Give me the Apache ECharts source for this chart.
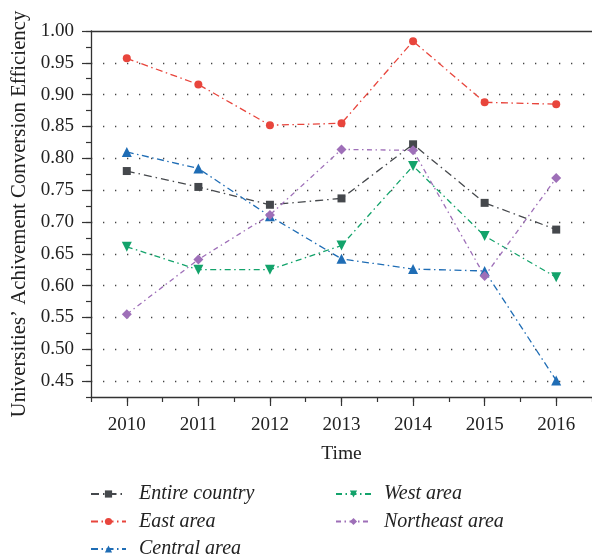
<!DOCTYPE html>
<html>
<head>
<meta charset="utf-8">
<script src="https://cdn.jsdelivr.net/npm/echarts@6/dist/echarts.min.js"></script>
<style>html,body{margin:0;padding:0;background:#fff}#c{width:592px;height:558px}</style>
</head>
<body>
<div id="c"></div>
<script>
// ---- data ----
const years = [2010, 2011, 2012, 2013, 2014, 2015, 2016];
const yearLabels = ['2010', '2011', '2012', '2013', '2014', '2015', '2016'];
const entireCountry = [0.780, 0.755, 0.727, 0.737, 0.822, 0.730, 0.688];
const eastArea      = [0.957, 0.916, 0.852, 0.855, 0.984, 0.888, 0.885];
const centralArea   = [0.810, 0.784, 0.709, 0.642, 0.626, 0.623, 0.451];
const westArea      = [0.661, 0.625, 0.625, 0.663, 0.788, 0.678, 0.613];
const northeastArea = [0.555, 0.641, 0.711, 0.814, 0.8125, 0.615, 0.769];
const yTickLabels = ['0.425','0.45','0.475','0.50','0.525','0.55','0.575','0.60','0.625','0.65','0.675','0.70',
                     '0.725','0.75','0.775','0.80','0.825','0.85','0.875','0.90','0.925','0.95','0.975','1.00'];
const seriesNames = ['Entire country', 'East area', 'Central area', 'West area', 'Northeast area'];

const FONT = '"Liberation Serif", "Times New Roman", serif';
const AX = '#333';
const rect = { left: 91, top: 31, right: 0, bottom: 161 };

function pairs(vals) { return years.map((y, i) => [y, vals[i]]); }

const styles = [
  { color: '#45484c', symbol: 'rect', size: 8, rot: 0, dash: [8, 4, 1.5, 4] },
  { color: '#e8453c', symbol: 'circle', size: 8, rot: 0, dash: [7, 3.5, 1.5, 3.5] },
  { color: '#1f6db5', symbol: 'triangle', size: 10, rot: 0, dash: [7, 3.5, 1.5, 3.5] },
  { color: '#13a36b', symbol: 'triangle', size: 10, rot: 180, dash: [6, 3.5, 1.5, 3.5] },
  { color: '#9e6fb8', symbol: 'diamond', size: 10, rot: 0, dash: [5, 3.5, 1.5, 3.5] }
];
const allVals = [entireCountry, eastArea, centralArea, westArea, northeastArea];

const series = seriesNames.map((n, i) => ({
  name: n, type: 'line', xAxisIndex: 0, yAxisIndex: 0,
  data: pairs(allVals[i]),
  symbol: styles[i].symbol, symbolSize: styles[i].size, symbolRotate: styles[i].rot,
  itemStyle: { color: styles[i].color },
  lineStyle: { color: styles[i].color, width: 1.3, type: styles[i].dash },
  z: 3
}));

const legendText = { fontSize: 20, fontStyle: 'italic', color: '#222', fontFamily: FONT, padding: [0, 0, 0, 8], lineHeight: 20 };

const chart = echarts.init(document.getElementById('c'), null, { renderer: 'canvas' });
chart.setOption({
  animation: false,
  backgroundColor: '#fff',
  textStyle: { fontFamily: FONT },
  grid: [Object.assign({}, rect), Object.assign({}, rect)],
  xAxis: [
    { // data axis with minor ticks
      type: 'value', gridIndex: 0, position: 'bottom', min: 2009.5, max: 2016.5, interval: 0.5,
      axisLine: { show: true, onZero: false, lineStyle: { color: AX, width: 1.3 } },
      axisTick: { show: true, length: 5, lineStyle: { color: AX, width: 1.2 } },
      axisLabel: { show: false }, splitLine: { show: false }
    },
    { // top frame line
      type: 'value', gridIndex: 0, position: 'top', min: 2009.5, max: 2016.5, interval: 0.5,
      axisLine: { show: true, onZero: false, lineStyle: { color: AX, width: 1.3 } },
      axisTick: { show: false }, axisLabel: { show: false }, splitLine: { show: false }
    },
    { // labels + major ticks
      type: 'category', gridIndex: 1, position: 'bottom', data: yearLabels, boundaryGap: true,
      axisLine: { show: false },
      axisTick: { show: true, alignWithLabel: true, length: 9, lineStyle: { color: AX, width: 1.2 } },
      axisLabel: { show: true, margin: 19, fontSize: 19, color: '#222', fontFamily: FONT },
      splitLine: { show: false },
      name: 'Time', nameLocation: 'middle', nameGap: 47,
      nameTextStyle: { fontSize: 19.5, color: '#222', fontFamily: FONT }
    }
  ],
  yAxis: [
    {
      type: 'value', gridIndex: 0, position: 'left', min: 0.425, max: 1.0, interval: 0.025,
      axisLine: { show: true, onZero: false, lineStyle: { color: AX, width: 1.3 } },
      axisTick: { show: true, length: 5, lineStyle: { color: AX, width: 1.2 } },
      axisLabel: { show: false }, splitLine: { show: false }
    },
    {
      type: 'category', gridIndex: 1, position: 'left', data: yTickLabels, boundaryGap: false,
      axisLine: { show: false },
      axisTick: { show: true, length: 9, interval: (i) => i % 2 === 1, lineStyle: { color: AX, width: 1.2 } },
      axisLabel: { show: true, interval: (i) => i % 2 === 1, margin: 17, fontSize: 19, color: '#222', fontFamily: FONT },
      splitLine: { show: true, interval: (i) => i % 2 === 1 && i < yTickLabels.length - 1,
                   lineStyle: { color: '#444', width: 1.3, type: [1.3, 10.7] } },
      name: 'Universities\u2019 Achivement Conversion Efficiency', nameLocation: 'middle', nameGap: 61,
      nameTextStyle: { fontSize: 20.8, color: '#222', fontFamily: FONT }
    }
  ],
  legend: [
    {
      data: seriesNames.slice(0, 3), orient: 'vertical', left: 90, top: 484, padding: 0, height: 78,
      itemWidth: 35, itemHeight: 9, itemGap: 7.5, textStyle: legendText
    },
    {
      data: seriesNames.slice(3), orient: 'vertical', left: 335, top: 484, padding: 0, height: 78,
      itemWidth: 35, itemHeight: 9, itemGap: 7.5, textStyle: legendText
    }
  ],
  series: series
});
</script>
</body>
</html>
